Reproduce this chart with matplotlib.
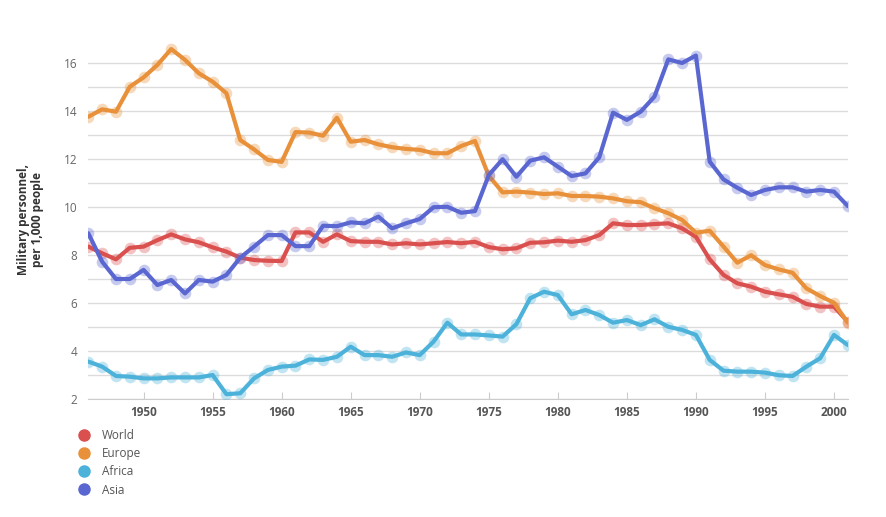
"""Military personnel per 1,000 people, 1946-2001, by region."""

import matplotlib
import matplotlib.pyplot as plt
from matplotlib.lines import Line2D

matplotlib.use("Agg")

# ---------------------------------------------------------------------------
# Data
# ---------------------------------------------------------------------------

years = list(range(1946, 2002))

world = [
    8.35, 8.07, 7.82, 8.30, 8.35, 8.62, 8.86, 8.65, 8.53, 8.32,
    8.14, 7.89, 7.79, 7.76, 7.75, 8.94, 8.94, 8.55, 8.86, 8.58,
    8.55, 8.55, 8.44, 8.49, 8.44, 8.49, 8.54, 8.49, 8.55, 8.33,
    8.24, 8.28, 8.51, 8.53, 8.60, 8.55, 8.62, 8.83, 9.32, 9.25,
    9.25, 9.29, 9.32, 9.11, 8.76, 7.82, 7.17, 6.82, 6.68, 6.47,
    6.36, 6.26, 5.96, 5.85, 5.85, 5.22,
]
europe = [
    13.76, 14.07, 13.97, 15.01, 15.40, 15.92, 16.58, 16.13, 15.57, 15.22,
    14.74, 12.79, 12.40, 11.96, 11.88, 13.12, 13.10, 12.97, 13.72, 12.72,
    12.79, 12.61, 12.49, 12.42, 12.38, 12.24, 12.24, 12.54, 12.75, 11.30,
    10.61, 10.64, 10.60, 10.54, 10.57, 10.46, 10.46, 10.43, 10.36, 10.24,
    10.20, 9.95, 9.74, 9.46, 8.93, 9.01, 8.35, 7.68, 7.99, 7.58,
    7.40, 7.26, 6.61, 6.29, 6.01, 5.18,
]
africa = [
    3.56, 3.35, 2.96, 2.93, 2.86, 2.86, 2.90, 2.90, 2.90, 3.00,
    2.20, 2.24, 2.86, 3.21, 3.35, 3.39, 3.65, 3.63, 3.76, 4.18,
    3.83, 3.83, 3.76, 3.94, 3.83, 4.39, 5.18, 4.69, 4.69, 4.65,
    4.60, 5.12, 6.20, 6.47, 6.33, 5.53, 5.71, 5.50, 5.18, 5.29,
    5.08, 5.32, 5.01, 4.88, 4.67, 3.63, 3.18, 3.14, 3.14, 3.10,
    2.99, 2.96, 3.35, 3.70, 4.67, 4.25,
]
asia = [
    8.90, 7.72, 7.00, 7.00, 7.38, 6.75, 6.96, 6.40, 6.96, 6.89,
    7.17, 7.89, 8.35, 8.83, 8.83, 8.37, 8.37, 9.22, 9.20, 9.36,
    9.32, 9.60, 9.11, 9.32, 9.50, 9.99, 10.01, 9.76, 9.83, 11.33,
    11.99, 11.26, 11.93, 12.07, 11.68, 11.29, 11.40, 12.07, 13.93, 13.63,
    13.97, 14.60, 16.15, 16.00, 16.31, 11.89, 11.15, 10.80, 10.50, 10.71,
    10.82, 10.82, 10.64, 10.71, 10.64, 10.04,
]

series_names = ["World", "Europe", "Africa", "Asia"]
series_values = [world, europe, africa, asia]
series_colors = ["#d9504f", "#e8913a", "#4cb2da", "#5b67d1"]

x_ticks = [1950, 1955, 1960, 1965, 1970, 1975, 1980, 1985, 1990, 1995, 2000]
y_ticks = [2, 4, 6, 8, 10, 12, 14, 16]

# ---------------------------------------------------------------------------
# Plot
# ---------------------------------------------------------------------------

plt.rcParams["font.family"] = ["Open Sans", "DejaVu Sans"]

fig = plt.figure(figsize=(8.87, 5.17), dpi=100)
ax = fig.add_axes([0.0996, 0.2282, 0.8562, 0.6964])

# Draw in order so World sits above Europe etc. like the original.
draw_order = [2, 3, 1, 0]
for i in draw_order:
    ax.plot(
        years, series_values[i],
        color=series_colors[i], linewidth=3, zorder=3 + i,
        solid_joinstyle="round", solid_capstyle="round",
    )
    ax.scatter(
        years, series_values[i],
        s=70, color=series_colors[i], alpha=0.35, linewidths=0, zorder=2 + i,
    )

ax.set_xlim(1946, 2001)
ax.set_ylim(2, 17)

# Minor gridlines every 1 unit, labels every 2.
ax.set_yticks(y_ticks)
ax.set_yticks(range(3, 17, 2), minor=True)
ax.grid(axis="y", which="both", color="#dcdcdc", linewidth=1)
ax.set_axisbelow(True)

ax.set_xticks(x_ticks)
ax.tick_params(axis="x", direction="in", length=5, color="#cccccc",
               labelsize=8.5, labelcolor="#555555", pad=5)
for lbl in ax.get_xticklabels():
    lbl.set_fontweight("bold")
ax.tick_params(axis="y", which="both", length=0, labelsize=8.5,
               labelcolor="#666666", pad=8)

for side in ("top", "right", "left"):
    ax.spines[side].set_visible(False)
ax.spines["bottom"].set_color("#cccccc")

ax.set_ylabel("Military personnel,\nper 1,000 people", fontsize=8.5,
              fontweight="bold", color="#333333", labelpad=14,
              linespacing=1.15)

# Legend: vertical list below the chart.
handles = [
    Line2D([], [], marker="o", linestyle="", markersize=8,
           markerfacecolor=c, markeredgecolor=c)
    for c in series_colors
]
fig.legend(
    handles, series_names, loc="upper left", bbox_to_anchor=(0.083, 0.18),
    frameon=False, fontsize=8.5, labelcolor="#555555", handletextpad=1.0,
    labelspacing=0.45, borderaxespad=0, handlelength=1,
)

fig.savefig("out.png", dpi=100)
plt.close(fig)
